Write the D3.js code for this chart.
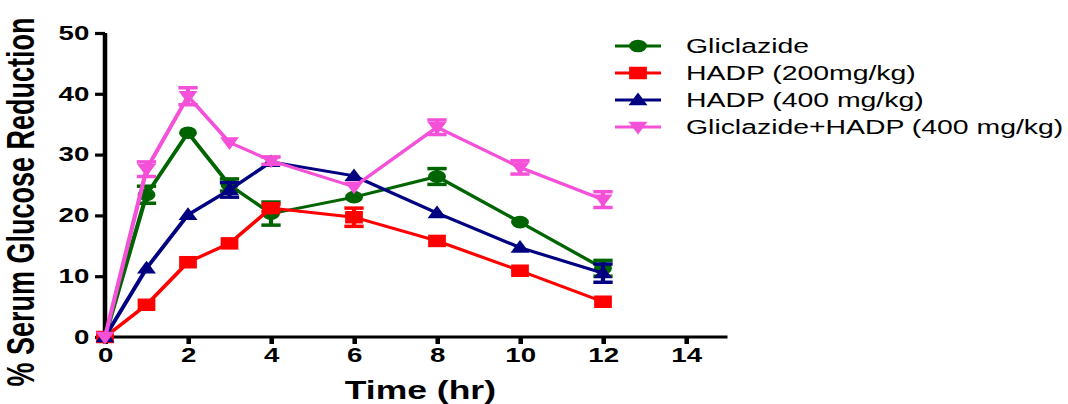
<!DOCTYPE html>
<html><head><meta charset="utf-8">
<script src="https://cdn.jsdelivr.net/npm/d3@7"></script>
<style>html,body{margin:0;padding:0;background:#fff;}svg{display:block;}</style>
</head><body>
<svg id="chart" width="1068" height="404"></svg>
<script>
const times = [0, 1, 2, 3, 4, 6, 8, 10, 12];
const seriesNames = ["Gliclazide", "HADP (200mg/kg)", "HADP (400 mg/kg)", "Gliclazide+HADP (400 mg/kg)"];
const gliclazide = [0, 23.4, 33.6, 25.0, 20.3, 23.0, 26.4, 18.9, 11.3];
const gliclazideErr = [0, 1.4, 0, 1.0, 1.9, 0, 1.3, 0, 1.3];
const hadp200 = [0, 5.3, 12.3, 15.4, 21.2, 19.7, 15.8, 10.9, 5.8];
const hadp200Err = [0, 0, 0, 0, 0.6, 1.5, 0, 0, 0];
const hadp400 = [0, 11.3, 20.1, 24.2, 28.8, 26.5, 20.4, 14.7, 10.5];
const hadp400Err = [0, 0, 0, 1.2, 0, 0, 0, 0, 1.5];
const combo = [0, 27.6, 39.6, 32.0, 29.0, 24.7, 34.5, 27.9, 22.6];
const comboErr = [0, 1.2, 1.4, 0, 0.6, 0, 1.2, 1.1, 1.3];
const xTicks = [0, 2, 4, 6, 8, 10, 12, 14];
const yTicks = [0, 10, 20, 30, 40, 50];
const colors = ["#006400", "#ff0000", "#000080", "#f550d8"];
const shapes = ["circle", "square", "up", "down"];

const SX = 1.42; // horizontal stretch of the original figure
const svg = d3.select("#chart");
const g = svg.append("g").attr("transform", `scale(${SX},1)`);
const font = "'Liberation Sans', Arial, sans-serif";

const x = d3.scaleLinear().domain([0, 15]).range([105 / SX, 727.5 / SX]);
const y = d3.scaleLinear().domain([0, 50]).range([337, 33]);

const series = [
  {name: seriesNames[0], vals: gliclazide, err: gliclazideErr},
  {name: seriesNames[1], vals: hadp200, err: hadp200Err},
  {name: seriesNames[2], vals: hadp400, err: hadp400Err},
  {name: seriesNames[3], vals: combo, err: comboErr}
].map((s, i) => ({...s, color: colors[i], shape: shapes[i]}));

// axes
const xAxis = g.append("g").attr("transform", `translate(0,${y(0)})`)
  .call(d3.axisBottom(x).tickValues(xTicks).tickSize(7).tickPadding(4).tickFormat(d3.format("d")));
const yAxis = g.append("g").attr("transform", `translate(${x(0)},0)`)
  .call(d3.axisLeft(y).tickValues(yTicks).tickSize(7).tickPadding(4).tickFormat(d3.format("d")));
[xAxis, yAxis].forEach(a => {
  a.select(".domain").attr("stroke", "#000").attr("stroke-width", 3.2);
  a.selectAll(".tick line").attr("stroke", "#000").attr("stroke-width", 3.2);
  a.selectAll(".tick text").attr("font-family", font).attr("font-weight", "bold")
    .attr("font-size", 19.5).attr("fill", "#000");
});
xAxis.select(".domain").attr("d", `M${x(0)},0H${x(15)}`);
yAxis.select(".domain").attr("d", `M0,${y(50)}V${y(0)}`);

function symbolPath(shape) {
  if (shape === "circle") return d3.symbol(d3.symbolCircle, Math.PI * 6.3 * 6.3)();
  if (shape === "square") return d3.symbol(d3.symbolSquare, 12.5 * 12.5)();
  if (shape === "up") return "M0,-7.5L6.7,5.2L-6.7,5.2Z";
  return "M0,7.5L6.7,-5.2L-6.7,-5.2Z";
}

const line = d3.line().x((d, i) => x(times[i])).y(d => y(d));

series.forEach(s => {
  const sg = g.append("g");
  sg.append("path").datum(s.vals).attr("d", line).attr("fill", "none")
    .attr("stroke", s.color).attr("stroke-width", 3);
  // error bars
  const eb = sg.selectAll(".eb").data(s.vals.map((v, i) => ({t: times[i], v, e: s.err[i]})).filter(d => d.e > 0))
    .enter().append("g");
  eb.append("line").attr("x1", d => x(d.t)).attr("x2", d => x(d.t))
    .attr("y1", d => y(d.v - d.e)).attr("y2", d => y(d.v + d.e))
    .attr("stroke", s.color).attr("stroke-width", 3);
  eb.append("line").attr("x1", d => x(d.t) - 6.8).attr("x2", d => x(d.t) + 6.8)
    .attr("y1", d => y(d.v + d.e)).attr("y2", d => y(d.v + d.e))
    .attr("stroke", s.color).attr("stroke-width", 3.5);
  eb.append("line").attr("x1", d => x(d.t) - 6.8).attr("x2", d => x(d.t) + 6.8)
    .attr("y1", d => y(d.v - d.e)).attr("y2", d => y(d.v - d.e))
    .attr("stroke", s.color).attr("stroke-width", 3.5);
  sg.selectAll(".m").data(s.vals).enter().append("path")
    .attr("d", symbolPath(s.shape))
    .attr("transform", (d, i) => `translate(${x(times[i])},${y(d)})`)
    .attr("fill", s.color);
});

// axis titles
g.append("text").attr("x", x(7.6)).attr("y", 399).attr("text-anchor", "middle")
  .attr("font-family", font).attr("font-weight", "bold").attr("font-size", 25)
  .text("Time (hr)");
g.append("text").attr("transform", `translate(${34 / SX},${202}) rotate(-90)`)
  .attr("text-anchor", "middle").attr("font-family", font).attr("font-weight", "bold")
  .attr("font-size", 27).text("% Serum Glucose Reduction");

// legend
const legY = [46, 73, 100, 127];
series.forEach((s, i) => {
  const lg = g.append("g").attr("transform", `translate(0,${legY[i]})`);
  lg.append("line").attr("x1", 615 / SX).attr("x2", 661 / SX).attr("y1", 0).attr("y2", 0)
    .attr("stroke", s.color).attr("stroke-width", 3);
  lg.append("path").attr("d", symbolPath(s.shape))
    .attr("transform", `translate(${638 / SX},0)`).attr("fill", s.color);
  lg.append("text").attr("x", 686 / SX).attr("y", 7).attr("font-family", font)
    .attr("font-size", 20).attr("fill", "#000").text(s.name);
});
</script>
</body></html>
